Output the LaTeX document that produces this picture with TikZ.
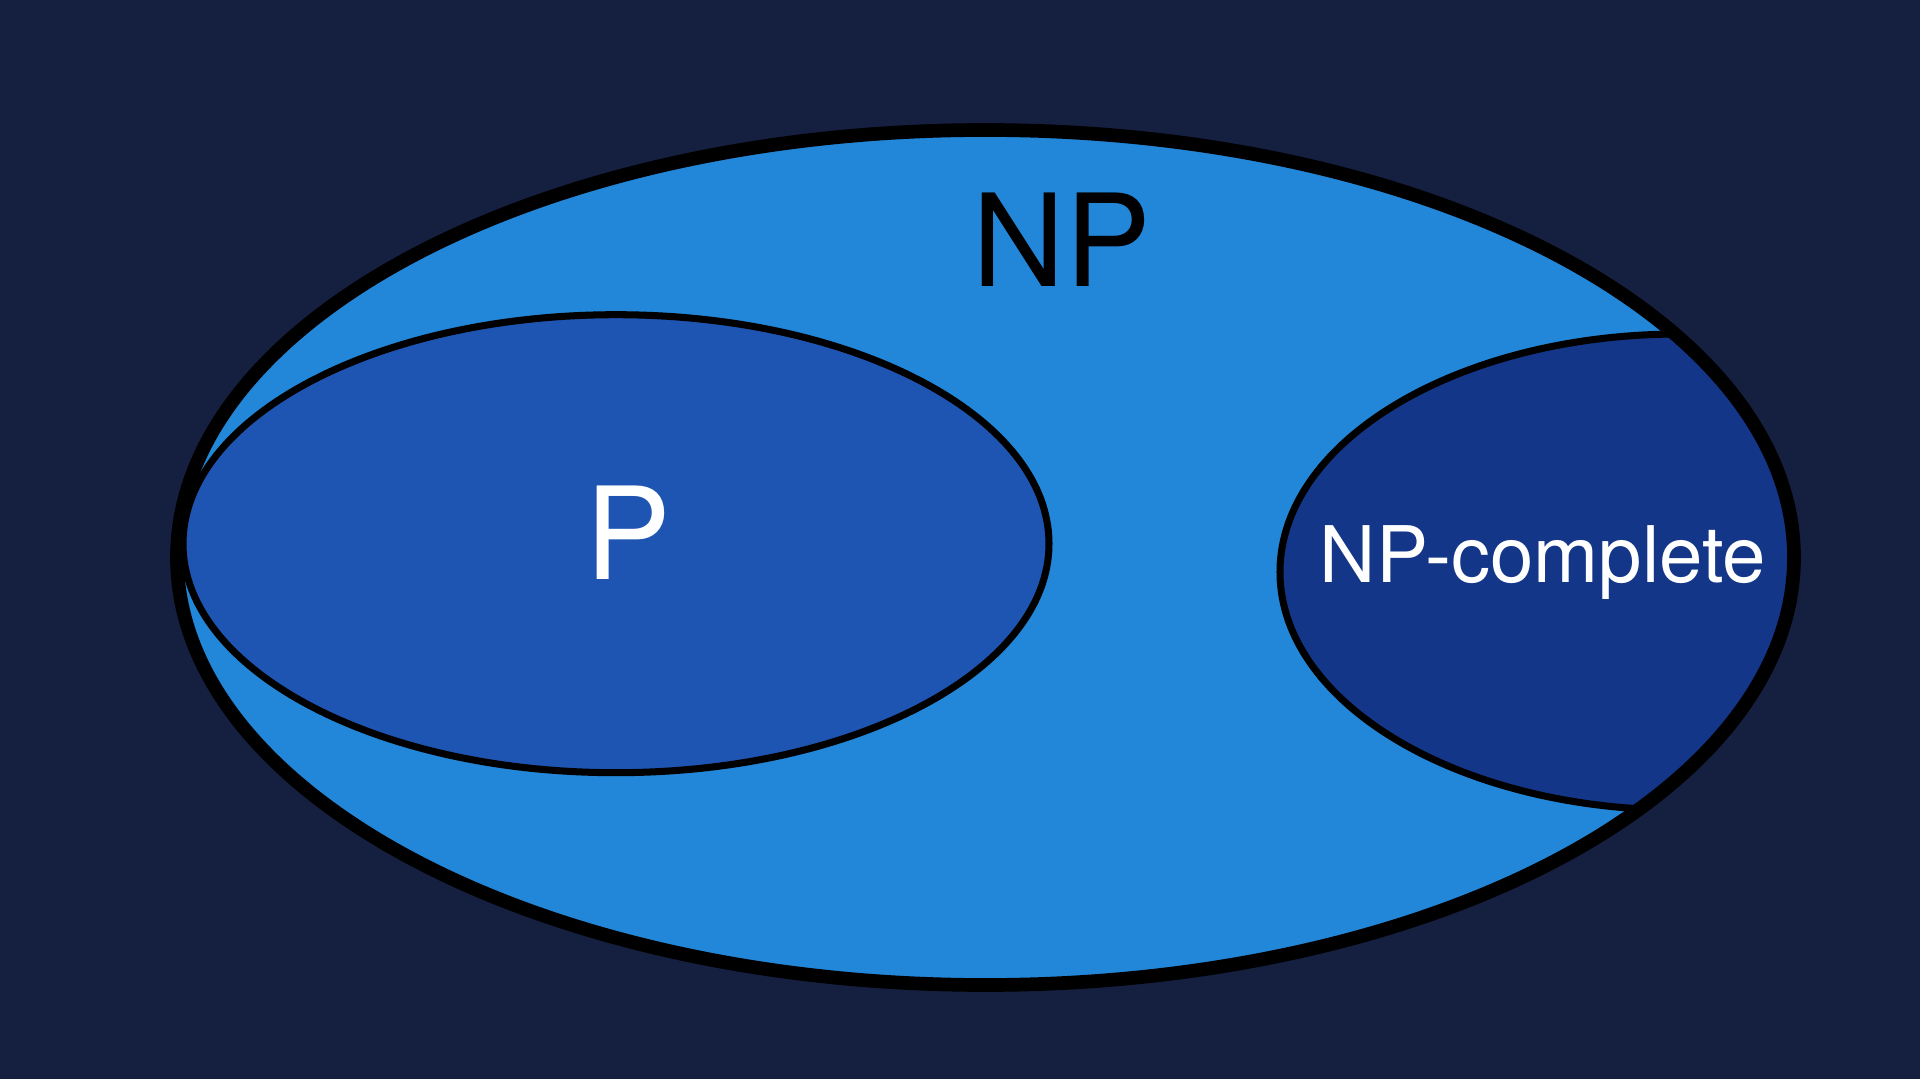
\documentclass[tikz,border=0pt]{standalone}
\usepackage{fontspec}
\setmainfont{TeX Gyre Heros}
\definecolor{bgnavy}{RGB}{21,32,64}
\definecolor{npblue}{RGB}{34,135,217}
\definecolor{pblue}{RGB}{31,85,178}
\definecolor{npcblue}{RGB}{19,54,136}

\begin{document}
\begin{tikzpicture}[x=0.01cm, y=0.01cm]
        \tikzstyle{every node}+=[inner sep=0pt]
        \fill [bgnavy] (0,0) rectangle (1920,-1079);
        \useasboundingbox (0,0) rectangle (1920,-1079);
        \fill [npblue] (985.5,-557.5) ellipse (808.5 and 427.5);
        \begin{scope}
        \clip (985.5,-557.5) ellipse (808.5 and 427.5);
        \filldraw [fill=npcblue, draw=black, line width=2pt] (1680,-572) ellipse (400 and 238);
        \end{scope}
        \filldraw [fill=pblue, draw=black, line width=2pt] (616,-543.7) ellipse (433 and 229);
        \draw [black, line width=3.9pt] (985.5,-557.5) ellipse (808.5 and 427.5);
        \node (np) [anchor=base, black] at (1062,-287) {\fontsize{36.5}{40}\selectfont NP};
        \node (p) [anchor=base, white] at (628,-579) {\fontsize{36.5}{40}\selectfont P};
        \node (npc) [anchor=base, white] at (1543,-583) {\fontsize{22.2}{26}\selectfont NP-complete};
\end{tikzpicture}
\end{document}
